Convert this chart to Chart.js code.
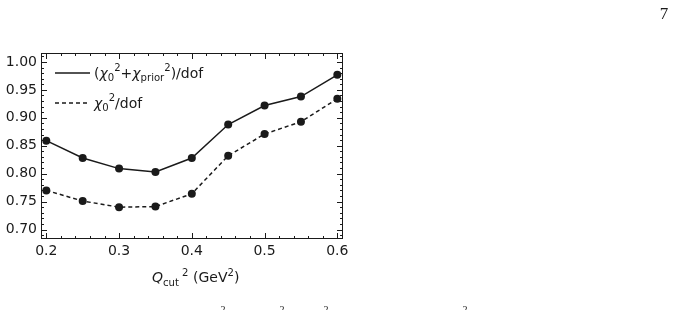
<!DOCTYPE html>
<html>
<head>
<meta charset="utf-8">
<script src="https://cdn.jsdelivr.net/npm/chart.js@4"></script>
<style>
  html, body { margin: 0; padding: 0; background: #fff; }
  #wrap { width: 678px; height: 310px; position: relative; }
</style>
</head>
<body>
<div id="wrap"><canvas id="myChart" width="678" height="310"></canvas></div>
<script>
// datos
const qcut2 = [0.20, 0.25, 0.30, 0.35, 0.40, 0.45, 0.50, 0.55, 0.60];
const chiTotal = [0.859, 0.828, 0.809, 0.803, 0.828, 0.888, 0.922, 0.938, 0.977];
const chiCero = [0.770, 0.751, 0.740, 0.741, 0.764, 0.832, 0.871, 0.893, 0.934];
const xTicks = [0.2, 0.3, 0.4, 0.5, 0.6];
const yTicks = [0.70, 0.75, 0.80, 0.85, 0.90, 0.95, 1.00];

const FONT = "'DejaVu Sans', sans-serif";
const INK = '#1a1a1a';

function toXY(ys) {
    return qcut2.map((x, i) => ({ x: x, y: ys[i] }));
}

// texto con subindices / superindices
function richText(ctx, x, y, parts, size) {
    let cx = x;
    parts.forEach(function (p) {
        let fs = size, dy = 0;
        if (p.sub) { fs = size * 0.72; dy = size * 0.28; }
        if (p.sup) { fs = size * 0.72; dy = -size * 0.42; }
        ctx.font = (p.it ? 'italic ' : '') + fs + 'px ' + FONT;
        ctx.fillText(p.t, cx, y + dy);
        cx += ctx.measureText(p.t).width;
    });
    return cx;
}

const marcos = {
    id: 'marcos',
    afterDraw(chart) {
        const ctx = chart.ctx;
        const a = chart.chartArea;
        const sx = chart.scales.x, sy = chart.scales.y;
        ctx.save();
        ctx.strokeStyle = INK;
        ctx.lineWidth = 1;
        ctx.strokeRect(a.left + 0.5, a.top + 0.5, a.right - a.left - 1, a.bottom - a.top - 1);

        // ticks hacia dentro en los cuatro lados
        ctx.beginPath();
        for (let k = 69; k <= 101; k++) {
            const v = k / 100;
            const py = Math.round(sy.getPixelForValue(v)) + 0.5;
            if (py < a.top || py > a.bottom) continue;
            const len = (k % 5 === 0) ? 6 : 3;
            ctx.moveTo(a.left, py); ctx.lineTo(a.left + len, py);
            ctx.moveTo(a.right, py); ctx.lineTo(a.right - len, py);
        }
        for (let k = 10; k <= 30; k++) {
            const v = k / 50;
            const px = Math.round(sx.getPixelForValue(v)) + 0.5;
            if (px < a.left || px > a.right) continue;
            const len = (k % 5 === 0) ? 6 : 3;
            ctx.moveTo(px, a.bottom); ctx.lineTo(px, a.bottom - len);
            ctx.moveTo(px, a.top); ctx.lineTo(px, a.top + len);
        }
        ctx.stroke();

        // leyenda
        ctx.fillStyle = INK;
        ctx.textBaseline = 'middle';
        ctx.textAlign = 'left';
        ctx.lineWidth = 1.5;
        ctx.beginPath();
        ctx.moveTo(55, 73); ctx.lineTo(90, 73);
        ctx.stroke();
        ctx.setLineDash([4, 3]);
        ctx.beginPath();
        ctx.moveTo(55, 103); ctx.lineTo(90, 103);
        ctx.stroke();
        ctx.setLineDash([]);
        richText(ctx, 94, 74, [
            { t: '(' }, { t: 'χ', it: true }, { t: '0', sub: true }, { t: '2', sup: true },
            { t: '+' }, { t: 'χ', it: true }, { t: 'prior', sub: true }, { t: '2', sup: true },
            { t: ')/dof' }
        ], 14);
        richText(ctx, 94, 104, [
            { t: 'χ', it: true }, { t: '0', sub: true }, { t: '2', sup: true }, { t: '/dof' }
        ], 14);

        // titulo eje x
        ctx.textBaseline = 'alphabetic';
        richText(ctx, 152, 282, [
            { t: 'Q', it: true }, { t: 'cut', sub: true }, { t: ' 2', sup: true },
            { t: ' (GeV' }, { t: '2', sup: true }, { t: ')' }
        ], 14);

        // numero de pagina y restos del pie
        ctx.font = "17px 'Liberation Serif', serif";
        ctx.textAlign = 'center';
        ctx.textBaseline = 'middle';
        ctx.fillText('7', 664, 15);
        ctx.font = "10px 'Liberation Serif', serif";
        ctx.textBaseline = 'top';
        [223, 282, 326, 465].forEach(function (px) { ctx.fillText('2', px, 305); });
        ctx.restore();
    }
};

const ctx = document.getElementById('myChart').getContext('2d');
const myChart = new Chart(ctx, {
    type: 'scatter',
    data: {
        datasets: [{
            label: '(χ0²+χprior²)/dof',
            data: toXY(chiTotal),
            showLine: true,
            borderColor: INK,
            backgroundColor: INK,
            borderWidth: 1.5,
            pointBorderWidth: 0,
            pointRadius: 4,
            pointHoverRadius: 4
        }, {
            label: 'χ0²/dof',
            data: toXY(chiCero),
            showLine: true,
            borderColor: INK,
            backgroundColor: INK,
            borderWidth: 1.5,
            borderDash: [4, 3],
            pointBorderWidth: 0,
            pointRadius: 4,
            pointHoverRadius: 4
        }]
    },
    options: {
        responsive: false,
        animation: false,
        layout: { padding: { left: 0, top: 53, right: 335, bottom: 31 } },
        plugins: { legend: { display: false }, tooltip: { enabled: false } },
        scales: {
            x: {
                type: 'linear',
                min: 0.1927,
                max: 0.6078,
                grid: { display: false, drawTicks: false },
                border: { display: false },
                afterBuildTicks: s => { s.ticks = xTicks.map(v => ({ value: v })); },
                afterFit: s => { s.height = 40; },
                ticks: {
                    padding: 4,
                    color: INK,
                    font: { family: 'DejaVu Sans', size: 14 },
                    callback: v => Number(v).toFixed(1)
                }
            },
            y: {
                min: 0.683,
                max: 1.016,
                grid: { display: false, drawTicks: false },
                border: { display: false },
                afterBuildTicks: s => { s.ticks = yTicks.map(v => ({ value: v })); },
                afterFit: s => { s.width = 41; },
                ticks: {
                    padding: 4,
                    color: INK,
                    font: { family: 'DejaVu Sans', size: 14 },
                    callback: v => Number(v).toFixed(2)
                }
            }
        }
    },
    plugins: [marcos]
});
</script>
</body>
</html>
